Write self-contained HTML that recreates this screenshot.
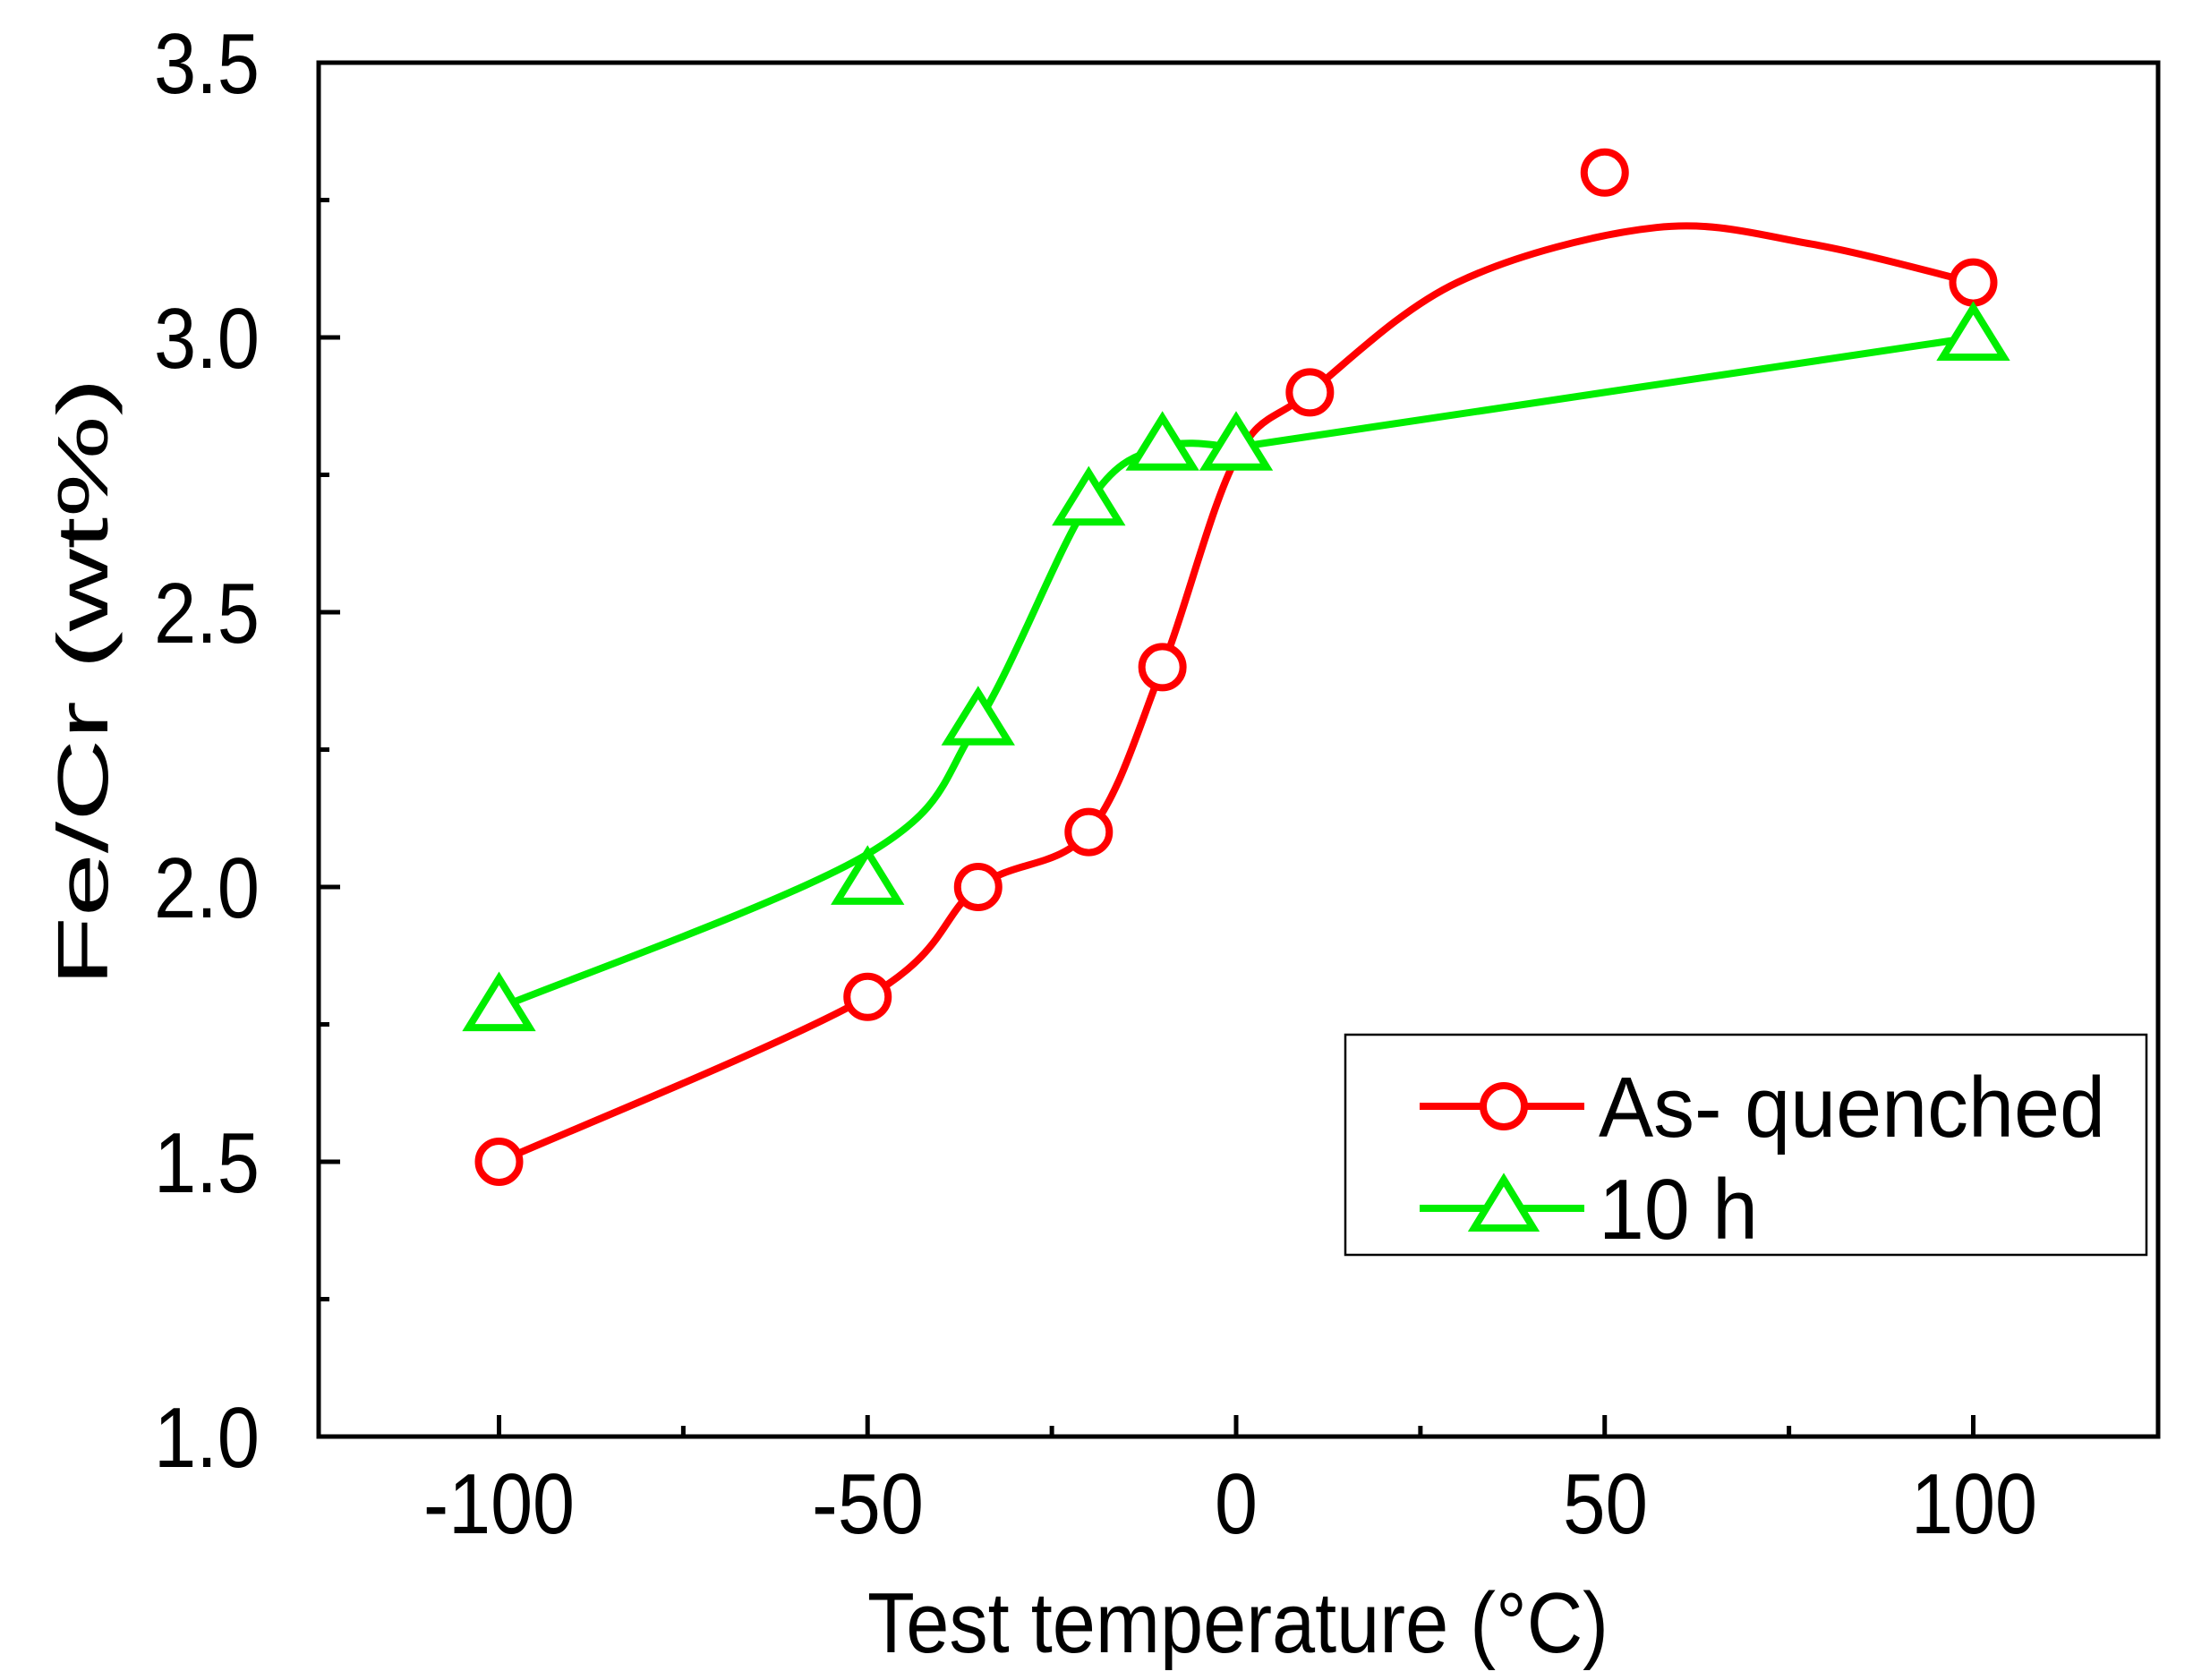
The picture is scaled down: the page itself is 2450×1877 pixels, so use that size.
<!DOCTYPE html>
<html><head><meta charset="utf-8"><style>
html,body{margin:0;padding:0;background:#fff;}
svg{display:block;}
text{font-family:"Liberation Sans",Arial,sans-serif;fill:#000;}
</style></head><body>
<svg id="s" width="2450" height="1877" viewBox="0 0 2450 1877" xmlns="http://www.w3.org/2000/svg">
<g id="ticks" stroke="#000" stroke-width="5"></g>
<rect x="356" y="70" width="2055" height="1535" fill="none" stroke="#000" stroke-width="5"/>
<g font-size="96" text-anchor="end">
<text x="290" y="104" textLength="118" lengthAdjust="spacingAndGlyphs">3.5</text>
<text x="290" y="411" textLength="118" lengthAdjust="spacingAndGlyphs">3.0</text>
<text x="290" y="718" textLength="118" lengthAdjust="spacingAndGlyphs">2.5</text>
<text x="290" y="1025" textLength="118" lengthAdjust="spacingAndGlyphs">2.0</text>
<text x="290" y="1332" textLength="118" lengthAdjust="spacingAndGlyphs">1.5</text>
<text x="290" y="1639" textLength="118" lengthAdjust="spacingAndGlyphs">1.0</text>
</g>
<g font-size="96">
<text x="473" y="1713" textLength="169" lengthAdjust="spacingAndGlyphs">-100</text>
<text x="907" y="1713" textLength="125" lengthAdjust="spacingAndGlyphs">-50</text>
<text x="1357" y="1713" textLength="48" lengthAdjust="spacingAndGlyphs">0</text>
<text x="1746" y="1713" textLength="95" lengthAdjust="spacingAndGlyphs">50</text>
<text x="2135" y="1713" textLength="141" lengthAdjust="spacingAndGlyphs">100</text>
<text x="969" y="1846" textLength="828" lengthAdjust="spacingAndGlyphs">Test temperature (°C)</text>
</g>
<text transform="translate(120,1102) rotate(-90)" font-size="80" textLength="680" lengthAdjust="spacingAndGlyphs">Fe/Cr (wt%)</text>
<g id="series"></g>
<rect x="1503" y="1156" width="895" height="246" fill="#fff" stroke="#000" stroke-width="2.5"/>
<line x1="1586" y1="1236" x2="1770" y2="1236" stroke="#f00" stroke-width="8"/>
<circle cx="1680" cy="1236" r="23" fill="#fff" stroke="#f00" stroke-width="8"/>
<line x1="1586" y1="1350" x2="1770" y2="1350" stroke="#0e0" stroke-width="8"/>
<polygon points="1680,1318 1713,1372 1647,1372" fill="#fff" stroke="#0e0" stroke-width="8"/>
<text x="1786" y="1270" font-size="96" textLength="566" lengthAdjust="spacingAndGlyphs">As- quenched</text>
<text x="1786" y="1384" font-size="96" textLength="178" lengthAdjust="spacingAndGlyphs">10 h</text>
</svg>
<script>
const X=t=>1381+t*8.235, Y=v=>1605-(v-1)*614;
const NS="http://www.w3.org/2000/svg";
const tk=document.getElementById('ticks');
function ln(x1,y1,x2,y2){const l=document.createElementNS(NS,'line');l.setAttribute('x1',x1);l.setAttribute('y1',y1);l.setAttribute('x2',x2);l.setAttribute('y2',y2);tk.appendChild(l);}
for(let v=1;v<=3.5001;v+=0.25){const y=Y(v);const maj=Math.abs(v*2-Math.round(v*2))<1e-6;ln(356,y,356+(maj?24:12),y);}
for(let t=-125;t<=125;t+=25){const x=X(t);if(x<360||x>2408)continue;const maj=t%50==0;ln(x,1605,x,1605-(maj?24:12));}
function cr(p){let d=`M${X(p[0][0])},${Y(p[0][1])}`;const P=p.map(q=>[X(q[0]),Y(q[1])]);
for(let i=0;i<P.length-1;i++){const p0=P[i-1]||P[i],p1=P[i],p2=P[i+1],p3=P[i+2]||P[i+1];
d+=` C${p1[0]+(p2[0]-p0[0])/6},${p1[1]+(p2[1]-p0[1])/6} ${p2[0]-(p3[0]-p1[0])/6},${p2[1]-(p3[1]-p1[1])/6} ${p2[0]},${p2[1]}`;}return d;}
const g=document.getElementById('series');let h='';
h+=`<path d="${cr([[-100,1.5],[-50,1.8],[-35,2.0],[-20,2.1],[-10,2.4],[0,2.78],[10,2.9],[30,3.1],[57,3.2],[78,3.17],[100,3.1]])}" fill="none" stroke="#f00" stroke-width="8"/>`;
h+=`<path d="${cr([[-100,1.78],[-50,2.06],[-35,2.3],[-20,2.7],[-10,2.8],[0,2.8]])} L${X(100)},${Y(3.0)}" fill="none" stroke="#0e0" stroke-width="8"/>`;
[[-100,1.5],[-50,1.8],[-35,2.0],[-20,2.1],[-10,2.4],[10,2.9],[50,3.3],[100,3.1]].forEach(p=>{h+=`<circle cx="${X(p[0])}" cy="${Y(p[1])}" r="23" fill="#fff" stroke="#f00" stroke-width="8"/>`;});
[[-100,1.78],[-50,2.01],[-35,2.3],[-20,2.7],[-10,2.8],[0,2.8],[100,3.0]].forEach(p=>{const x=X(p[0]),y=Y(p[1]);h+=`<polygon points="${x},${y-33} ${x+34},${y+22} ${x-34},${y+22}" fill="#fff" stroke="#0e0" stroke-width="8"/>`;});
g.innerHTML=h;
</script>
</body></html>
